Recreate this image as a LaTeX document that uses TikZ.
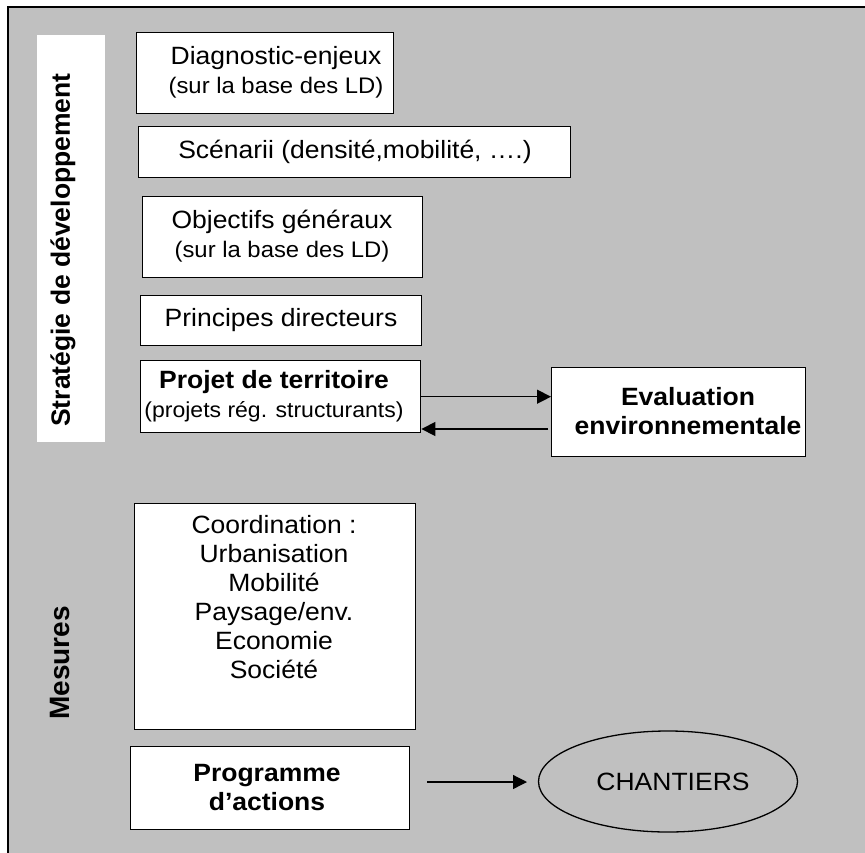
\documentclass[tikz,border=0pt]{standalone}
\usepackage{fontspec}
\setmainfont{Liberation Sans}[FakeStretch=1.06]
\newfontfamily\vfont{Liberation Sans}
\usetikzlibrary{arrows.meta,shapes.geometric,calc}
\definecolor{bggray}{HTML}{C0C0C0}
\newcommand\mainsz{\fontsize{25pt}{29pt}\selectfont}
\newcommand\subsz{\fontsize{22.5pt}{28pt}\selectfont}
\newcommand\smsz{\fontsize{21.7pt}{27pt}\selectfont}
\begin{document}
\begin{tikzpicture}[x=1pt,y=-1pt,
  box/.style={draw=black,fill=white,line width=1.4pt,anchor=north west,inner sep=0pt},
  txt/.style={align=center,font=\mainsz,inner sep=0pt},
  vtxt/.style={font=\vfont\fontsize{26.5pt}{30pt}\selectfont\bfseries,rotate=90,inner sep=0pt},
  arr/.style={line width=1.3pt,-{Triangle[length=14pt,width=14pt]}}]
\useasboundingbox (0,0) rectangle (865,852);
\fill[white] (0,0) rectangle (865,852);
\fill[bggray] (8,7) rectangle (866,853);
\draw[line width=1.5pt] (8,853) -- (8,7) -- (866,7);
% white strip
\node[fill=white,inner sep=0pt,anchor=north west,minimum width=68pt,minimum height=407pt] (strip) at (37,35) {};
\node[vtxt] (strat) at (63,250) {Stratégie de développement};
\node[vtxt,font=\vfont\fontsize{28pt}{30pt}\selectfont\bfseries] (mes) at (60,663) {Mesures};
% boxes
\node[box,minimum width=257pt,minimum height=81pt] (diag) at (136,32) {};
\node[txt] (diagt) at (276,72.5) {Diagnostic-enjeux\\{\subsz (sur la base des LD)}};
\node[box,minimum width=432pt,minimum height=51pt] (scen) at (138,126) {};
\node[txt] (scent) at (355,151.5) {Scénarii (densité,mobilité, ….)};
\node[box,minimum width=280pt,minimum height=81pt] (obj) at (142,196) {};
\node[txt] (objt) at (282,236.5) {Objectifs généraux\\{\subsz (sur la base des LD)}};
\node[box,minimum width=281pt,minimum height=50pt] (princ) at (140,295) {};
\node[txt] (princt) at (281,320) {Principes directeurs};
\node[box,minimum width=280pt,minimum height=72pt] (proj) at (140,360) {};
\node[txt] (projt) at (274,396) {\textbf{Projet de territoire}\\{\smsz (projets rég. structurants)}};
\node[box,minimum width=254pt,minimum height=89pt] (eval) at (551,367) {};
\node[txt,font=\mainsz\bfseries] (evalt) at (688,411.5) {Evaluation\\environnementale};
\node[box,minimum width=281pt,minimum height=226pt] (coord) at (134,503) {};
\node[txt] (coordt) at (274,597) {Coordination :\\Urbanisation\\Mobilité\\Paysage/env.\\Economie\\Société};
\node[box,minimum width=279pt,minimum height=83pt] (prog) at (130,746) {};
\node[txt,font=\mainsz\bfseries] (progt) at (267,787.5) {Programme\\d’actions};
\node[draw=black,line width=1.3pt,ellipse,minimum width=259pt,minimum height=101pt,inner sep=0pt] (chant) at (668,781.5) {};
\node[txt] (chantt) at (673,781.5) {CHANTIERS};
% arrows
\draw[arr] (proj.east) -- (proj.east -| eval.west);
\coordinate (lowstart) at (548,429);
\draw[arr] (lowstart) -- (lowstart -| proj.east);
\coordinate (pa1) at (427,782);
\coordinate (pa2) at (527,782);
\draw[arr] (pa1) -- (pa2);
\end{tikzpicture}
\end{document}
